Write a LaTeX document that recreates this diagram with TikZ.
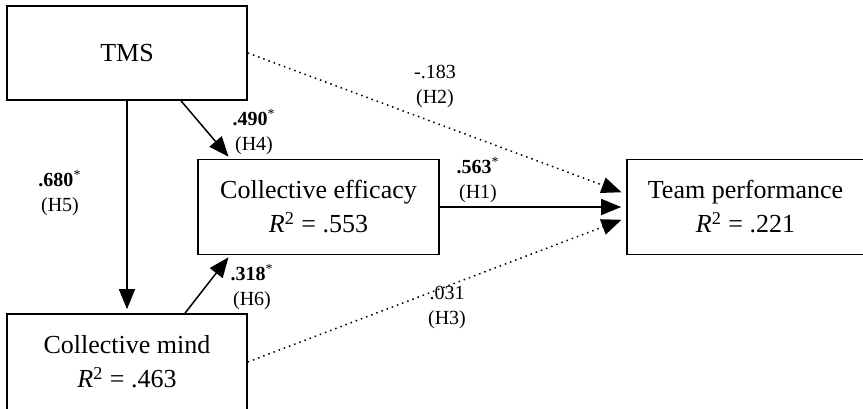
\documentclass[tikz,border=0pt]{standalone}
\usepackage{fontspec}
\setmainfont{Liberation Serif}
\usetikzlibrary{arrows.meta, positioning}
\tikzstyle{construct} = [rectangle, draw=black, line width=0.8pt, align=center, inner sep=0pt, font=\fontsize{13}{17}\selectfont]
\tikzstyle{coef} = [align=center, inner sep=0pt, font=\fontsize{10}{12.5}\selectfont]
\tikzstyle{link} = [draw, line width=0.75pt, -{Triangle[length=10pt,width=8pt]}]
\tikzstyle{weak} = [link, dotted]

\begin{document}
\begin{tikzpicture}[x=0.5pt, y=-0.5pt]
		\useasboundingbox (0,0) rectangle (863,408);
		\node (TMS)[construct, minimum width=120pt, minimum height=47pt] at (127,53) {TMS};
		\node (Efficacy)[construct, minimum width=120.5pt, minimum height=47.5pt] at (318.5,207) {Collective efficacy\\\textit{R}\textsuperscript{2} = .553};
		\node (Mind)[construct, minimum width=120pt, minimum height=48pt] at (127,362) {Collective mind\\\textit{R}\textsuperscript{2} = .463};
		\node (Performance)[construct, minimum width=118.5pt, minimum height=47.5pt] at (745.5,207) {Team performance\\\textit{R}\textsuperscript{2} = .221};
		% path coefficients
		\node (H5)[coef] at (60,193) {\textbf{.680}\textsuperscript{*}\\(H5)};
		\node (H4)[coef] at (254,132) {\textbf{.490}\textsuperscript{*}\\(H4)};
		\node (H2)[coef] at (435,86) {-.183\\(H2)};
		\node (H1)[coef] at (478,180) {\textbf{.563}\textsuperscript{*}\\(H1)};
		\node (H6)[coef] at (252,287) {\textbf{.318}\textsuperscript{*}\\(H6)};
		\node (H3)[coef] at (447,307) {.031\\(H3)};
		\draw [link, shorten >=2pt] (TMS.south) -- (Mind.north);
		\draw [link] ([xshift=27pt]TMS.south) -- ([xshift=-45pt, yshift=1pt]Efficacy.north);
		\draw [link] ([xshift=29pt]Mind.north) -- ([xshift=-45pt, yshift=-1pt]Efficacy.south);
		\draw [link, shorten >=2.5pt] (Efficacy.east) -- (Performance.west);
		\draw [weak, shorten >=2.5pt] (TMS.east) -- ([yshift=6.5pt]Performance.west);
		\draw [weak, shorten >=2.5pt] (Mind.east) -- ([yshift=-5.5pt]Performance.west);
	\end{tikzpicture}
\end{document}
